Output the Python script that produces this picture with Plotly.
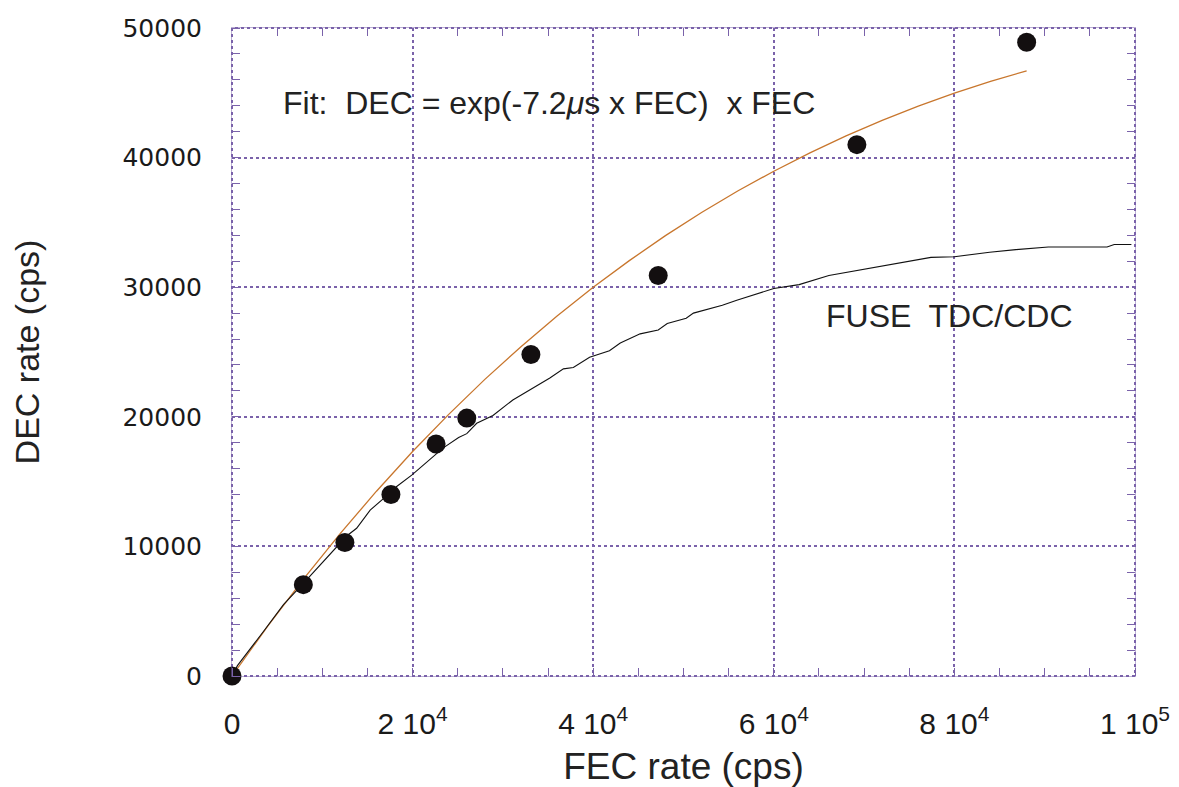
import plotly.graph_objects as go

# Measured points (FEC rate, DEC rate)
meas_fec = [0, 7900, 12500, 17600, 22600, 26000, 33100, 47200, 69200, 88000]
meas_dec = [0, 7050, 10300, 14000, 17900, 19900, 24800, 30900, 41000, 48900]

# Fit curve (orange)
fit_fec = [0, 4000, 8000, 12000, 16000, 20000, 24000, 28000, 32000, 36000, 40000,
           44000, 48000, 52000, 56000, 60000, 64000, 68000, 72000, 76000, 80000, 84000, 88000]
fit_dec = [0, 3890, 7550, 11000, 14260, 17320, 20190, 22890, 25410, 27780, 29990,
           32050, 33980, 35760, 37420, 38950, 40370, 41680, 42880, 43970, 44970, 45880, 46700]

# FUSE TDC/CDC curve (black)
fuse_fec = [0, 600, 3500, 5700, 7900, 10100, 12700, 13800, 15300, 16800, 18200, 19900, 21900,
            23400, 25100, 26000, 27100, 28900, 31100, 33000, 35200, 36700, 37800, 39600, 41800,
            43000, 45200, 47200, 48200, 50300, 51100, 54300, 55900, 60000, 62800, 66100, 69300,
            72200, 74200, 77400, 80000, 81500, 83900, 86800, 90400, 96900, 97700, 99600]
fuse_dec = [0, 800, 3450, 5500, 7150, 8850, 10800, 11400, 12800, 13700, 14600, 15500, 16700,
            17600, 18400, 18700, 19500, 20100, 21300, 22100, 23000, 23700, 23800, 24600, 25100,
            25700, 26400, 26700, 27200, 27600, 28000, 28600, 29000, 29900, 30200, 30900, 31300,
            31700, 31900, 32300, 32350, 32500, 32700, 32900, 33100, 33100, 33300, 33300]

x_tickvals = [0, 20000, 40000, 60000, 80000, 100000]
x_ticktext = ["0", "2 10<sup>4</sup>", "4 10<sup>4</sup>", "6 10<sup>4</sup>",
              "8 10<sup>4</sup>", "1 10<sup>5</sup>"]
y_tickvals = [0, 10000, 20000, 30000, 40000, 50000]
y_ticktext = ["0", "10000", "20000", "30000", "40000", "50000"]

PURPLE = "rgb(122,98,170)"
X_RANGE = [0, 100000]
Y_RANGE = [0, 50000]

fig = go.Figure()
fig.add_trace(go.Scatter(x=fit_fec, y=fit_dec, mode="lines",
                         line=dict(color="rgb(200,118,45)", width=1.3), showlegend=False))
fig.add_trace(go.Scatter(x=fuse_fec, y=fuse_dec, mode="lines",
                         line=dict(color="#111111", width=1.1), showlegend=False))
fig.add_trace(go.Scatter(x=meas_fec, y=meas_dec, mode="markers",
                         marker=dict(color="#130f10", size=19), cliponaxis=False,
                         showlegend=False))
# invisible trace to carry the mirrored (top/right) tick axes
fig.add_trace(go.Scatter(x=[None], y=[None], xaxis="x2", yaxis="y2", mode="markers",
                         showlegend=False, hoverinfo="skip"))

fig.add_annotation(x=5400, y=44200, xref="x", yref="y", xanchor="left", yanchor="middle",
                   text="Fit:  DEC = exp(-7.2<i>μ</i>s x FEC)  x FEC", showarrow=False,
                   font=dict(family="Liberation Sans, Arial", size=32, color="#222222"))
fig.add_annotation(x=79500, y=27800, xref="x", yref="y", xanchor="center", yanchor="middle",
                   text="FUSE  TDC/CDC", showarrow=False,
                   font=dict(family="Liberation Sans, Arial", size=32, color="#222222"))

# dotted frame
fig.add_shape(type="rect", xref="paper", yref="paper", x0=0, y0=0, x1=1, y1=1,
              line=dict(color=PURPLE, width=2, dash="dot"), layer="below")

fig.update_xaxes(range=X_RANGE, tickmode="array", tickvals=x_tickvals, ticktext=x_ticktext,
                 showgrid=True, gridcolor=PURPLE, gridwidth=1.5, griddash="dot",
                 zeroline=False, ticks="", showline=True, linecolor="rgba(122,98,170,0.5)",
                 linewidth=1,
                 minor=dict(ticks="inside", ticklen=8, tickcolor=PURPLE, tickwidth=1,
                            dtick=5000, tick0=0, showgrid=False),
                 tickfont=dict(family="Liberation Sans, Arial", size=30, color="#1a1a1a"),
                 ticklabelstandoff=21, automargin=False,
                 title=dict(text="FEC rate (cps)", standoff=26,
                            font=dict(family="Liberation Sans, Arial", size=37, color="#222222")))
fig.update_yaxes(range=Y_RANGE, tickmode="array", tickvals=y_tickvals, ticktext=y_ticktext,
                 showgrid=True, gridcolor=PURPLE, gridwidth=1.5, griddash="dot",
                 zeroline=False, ticks="", showline=True, linecolor="rgba(122,98,170,0.5)",
                 linewidth=1,
                 minor=dict(ticks="inside", ticklen=8, tickcolor=PURPLE, tickwidth=1,
                            dtick=2000, tick0=0, showgrid=False),
                 tickfont=dict(family="DejaVu Sans", size=25, color="#1a1a1a"),
                 ticklabelstandoff=24, automargin=False,
                 title=dict(text="DEC rate (cps)", standoff=80,
                            font=dict(family="Liberation Sans Narrow, Arial Narrow, Liberation Sans",
                                      size=34, color="#222222")))

fig.update_layout(
    width=1171, height=779, plot_bgcolor="white", paper_bgcolor="white",
    margin=dict(l=224, r=44, t=20, b=111), showlegend=False,
    xaxis2=dict(overlaying="x", side="top", range=X_RANGE, showgrid=False, zeroline=False,
                showticklabels=False, ticks="", showline=True,
                linecolor="rgba(122,98,170,0.5)", linewidth=1, automargin=False,
                minor=dict(ticks="inside", ticklen=8, tickcolor=PURPLE, tickwidth=1,
                           dtick=5000, tick0=0, showgrid=False)),
    yaxis2=dict(overlaying="y", side="right", range=Y_RANGE, showgrid=False, zeroline=False,
                showticklabels=False, ticks="", showline=True,
                linecolor="rgba(122,98,170,0.5)", linewidth=1, automargin=False,
                minor=dict(ticks="inside", ticklen=8, tickcolor=PURPLE, tickwidth=1,
                           dtick=2000, tick0=0, showgrid=False)),
)

fig.write_html("out.html")
